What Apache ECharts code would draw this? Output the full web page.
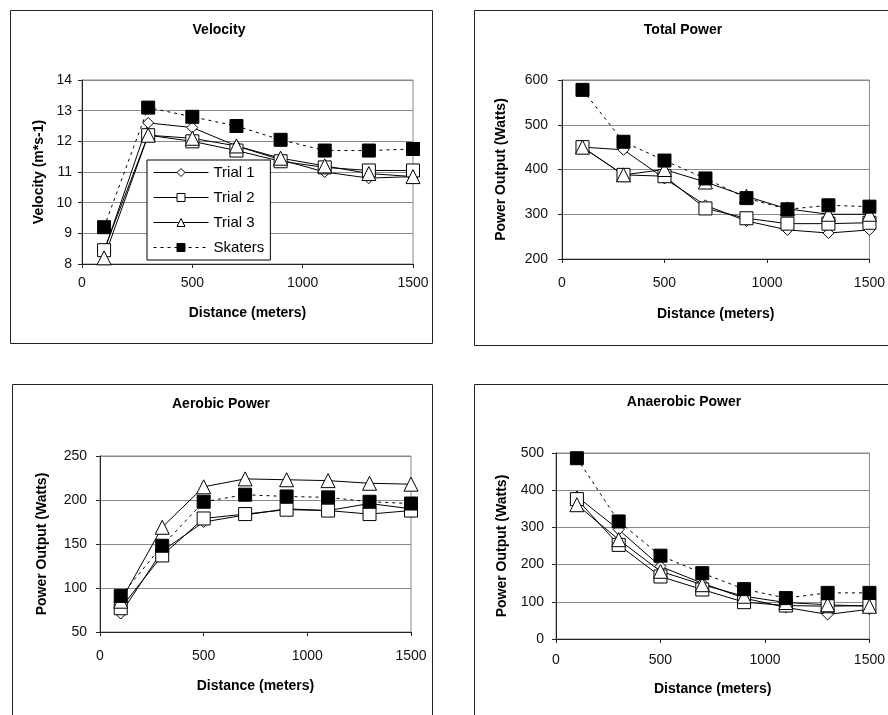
<!DOCTYPE html>
<html>
<head>
<meta charset="utf-8">
<title>Speed skating power</title>
<script src="https://cdn.jsdelivr.net/npm/echarts@6/dist/echarts.min.js"></script>
<style>
  html, body { margin: 0; padding: 0; background: #fff; }
  #chart { width: 888px; height: 715px; }
</style>
</head>
<body>
<div id="chart"></div>
<script>
// distances along the race (m)
const distances = [100, 300, 500, 700, 900, 1100, 1300, 1500]
const seriesNames = ['Trial 1', 'Trial 2', 'Trial 3', 'Skaters']
const xTicks = [0, 500, 1000, 1500]

// velocity (m*s-1)
const velTrial1 = [8.4, 12.6, 12.45, 11.85, 11.4, 11.0, 10.8, 10.85]
const velTrial2 = [8.45, 12.2, 12.0, 11.7, 11.35, 11.15, 11.05, 11.05]
const velTrial3 = [8.2, 12.2, 12.1, 11.85, 11.45, 11.2, 10.95, 10.85]
const velSkaters = [9.2, 13.1, 12.8, 12.5, 12.05, 11.7, 11.7, 11.75]

// total power (W)
const totTrial1 = [450, 444, 380, 320, 285, 265, 258, 265]
const totTrial2 = [450, 388, 385, 313, 291, 279, 279, 281]
const totTrial3 = [450, 388, 400, 372, 340, 312, 300, 300]
const totSkaters = [578, 462, 420, 380, 336, 311, 320, 317]

// aerobic power (W)
const aeroTrial1 = [71, 142, 175, 183, 190, 188, 196, 190]
const aeroTrial2 = [77, 137, 179, 184, 189, 188, 184, 188]
const aeroTrial3 = [85, 169, 215, 224, 223, 222, 219, 218]
const aeroSkaters = [91, 148, 198, 206, 204, 203, 198, 196]

// anaerobic power (W)
const anaTrial1 = [383, 294, 195, 150, 110, 85, 66, 80]
const anaTrial2 = [376, 253, 168, 133, 99, 90, 88, 90]
const anaTrial3 = [361, 267, 182, 146, 115, 98, 92, 88]
const anaSkaters = [486, 316, 224, 177, 134, 110, 124, 124]

const FONT = 'Liberation Sans, Arial, sans-serif'

const panels = [
  {
    title: 'Velocity', titleX: 219, titleY: 23,
    yName: 'Velocity (m*s-1)', yMin: 8, yMax: 14, yStep: 1,
    grid: { left: 82, right: 475, top: 80, bottom: 451 },
    yNameGap: 36, xNameGap: 42, xLabelMargin: 12, yLabelMargin: 10,
    values: [velTrial1, velTrial2, velTrial3, velSkaters]
  },
  {
    title: 'Total Power', titleX: 683, titleY: 23,
    yName: 'Power Output (Watts)', yMin: 200, yMax: 600, yStep: 100,
    grid: { left: 562, right: 16, top: 80, bottom: 456 },
    yNameGap: 54, xNameGap: 48, xLabelMargin: 17, yLabelMargin: 14,
    values: [totTrial1, totTrial2, totTrial3, totSkaters]
  },
  {
    title: 'Aerobic Power', titleX: 221, titleY: 397,
    yName: 'Power Output (Watts)', yMin: 50, yMax: 250, yStep: 50,
    grid: { left: 100, right: 477, top: 456, bottom: 83 },
    yNameGap: 51, xNameGap: 47, xLabelMargin: 17, yLabelMargin: 13,
    values: [aeroTrial1, aeroTrial2, aeroTrial3, aeroSkaters]
  },
  {
    title: 'Anaerobic Power', titleX: 684, titleY: 395,
    yName: 'Power Output (Watts)', yMin: 0, yMax: 500, yStep: 100,
    grid: { left: 556, right: 12, top: 453, bottom: 76 },
    yNameGap: 47, xNameGap: 43, xLabelMargin: 14, yLabelMargin: 12,
    values: [anaTrial1, anaTrial2, anaTrial3, anaSkaters]
  }
]

// marker look per series
const marks = [
  { symbol: 'diamond', size: 11, fill: '#fff', dash: 'solid' },
  { symbol: 'rect', size: 13, fill: '#fff', dash: 'solid' },
  { symbol: 'triangle', size: 14, fill: '#fff', dash: 'solid' },
  { symbol: 'rect', size: 13, fill: '#000', dash: [3, 4] }
]

const series = []
panels.forEach((p, gi) => {
  p.values.forEach((vals, si) => {
    const m = marks[si]
    series.push({
      name: seriesNames[si],
      type: 'line',
      xAxisIndex: gi,
      yAxisIndex: gi,
      data: distances.map((d, i) => [d, vals[i]]),
      symbol: m.symbol,
      symbolSize: m.size,
      showAllSymbol: true,
      lineStyle: { color: '#000', width: 1, type: m.dash },
      itemStyle: { color: m.fill, borderColor: '#000', borderWidth: 1 },
      emphasis: { disabled: true },
      animation: false
    })
  })
})

const chart = echarts.init(document.getElementById('chart'), null, { renderer: 'canvas' })

chart.setOption({
  backgroundColor: '#fff',
  animation: false,
  textStyle: { fontFamily: FONT },
  title: panels.map(p => ({
    text: p.title,
    left: p.titleX,
    top: p.titleY,
    textAlign: 'center',
    padding: 0,
    textStyle: { fontSize: 14, fontWeight: 'bold', color: '#000', fontFamily: FONT }
  })),
  legend: {
    data: seriesNames,
    orient: 'vertical',
    left: 147,
    top: 160,
    padding: [5, 6, 5, 6],
    itemWidth: 55,
    itemHeight: 10,
    itemGap: 10,
    backgroundColor: '#fff',
    borderColor: '#000',
    borderWidth: 1,
    borderRadius: 0,
    selectedMode: false,
    lineStyle: { width: 1 },
    itemStyle: { borderWidth: 1 },
    textStyle: { fontSize: 15, color: '#000', fontFamily: FONT }
  },
  grid: panels.map(p => Object.assign({
    show: true,
    borderColor: '#888',
    borderWidth: 1,
    backgroundColor: 'transparent'
  }, p.grid)),
  xAxis: panels.map((p, gi) => ({
    type: 'value',
    gridIndex: gi,
    min: 0,
    max: 1500,
    interval: 500,
    name: 'Distance (meters)',
    nameLocation: 'middle',
    nameGap: p.xNameGap,
    nameTextStyle: { fontSize: 14, fontWeight: 'bold', color: '#000', fontFamily: FONT },
    axisLine: { show: true, lineStyle: { color: '#222', width: 1 } },
    axisTick: { show: true, length: 4, lineStyle: { color: '#222' } },
    axisLabel: {
      margin: p.xLabelMargin,
      fontSize: 14,
      color: '#111',
      fontFamily: FONT,
      formatter: v => (xTicks.indexOf(v) >= 0 ? String(v) : '')
    },
    splitLine: { show: false }
  })),
  yAxis: panels.map((p, gi) => ({
    type: 'value',
    gridIndex: gi,
    min: p.yMin,
    max: p.yMax,
    interval: p.yStep,
    name: p.yName,
    nameLocation: 'middle',
    nameGap: p.yNameGap,
    nameTextStyle: { fontSize: 14, fontWeight: 'bold', color: '#000', fontFamily: FONT },
    axisLine: { show: true, lineStyle: { color: '#222', width: 1 } },
    axisTick: { show: true, length: 4, lineStyle: { color: '#222' } },
    axisLabel: { margin: p.yLabelMargin, fontSize: 14, color: '#111', fontFamily: FONT },
    splitLine: { show: true, lineStyle: { color: '#8a8a8a', width: 1 } }
  })),
  graphic: [
    { type: 'rect', shape: { x: 10.5, y: 10.5, width: 422, height: 333 }, style: { fill: 'none', stroke: '#222', lineWidth: 1 }, z: -1 },
    { type: 'rect', shape: { x: 474.5, y: 10.5, width: 430, height: 335 }, style: { fill: 'none', stroke: '#222', lineWidth: 1 }, z: -1 },
    { type: 'rect', shape: { x: 12.5, y: 384.5, width: 420, height: 350 }, style: { fill: 'none', stroke: '#222', lineWidth: 1 }, z: -1 },
    { type: 'rect', shape: { x: 474.5, y: 384.5, width: 430, height: 350 }, style: { fill: 'none', stroke: '#222', lineWidth: 1 }, z: -1 }
  ],
  series: series
})
</script>
</body>
</html>
